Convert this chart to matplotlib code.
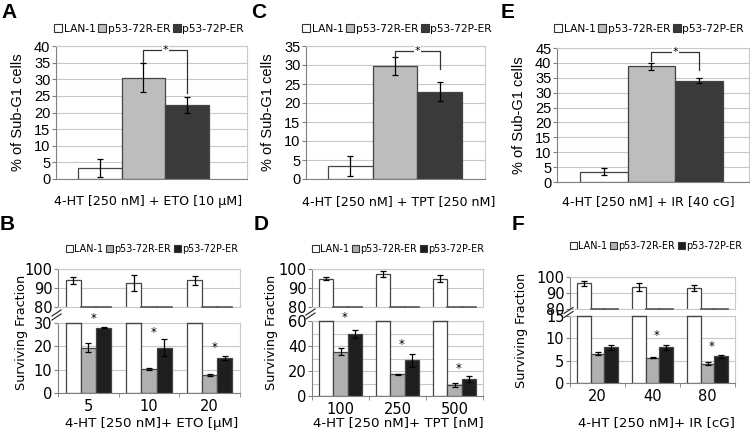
import matplotlib
matplotlib.use("Agg")
import matplotlib.pyplot as plt
from matplotlib.patches import Patch
from matplotlib.lines import Line2D

plt.rcParams['font.family'] = 'DejaVu Sans'

# ---- data ----
lines_ = ["LAN-1", "p53-72R-ER", "p53-72P-ER"]

# Sub-G1 panels (A, C, E)
A_mean = [3.3, 30.5, 22.2]
A_err = [2.8, 4.3, 2.5]
A_sig = [38.8, 35.2, 26.0]   # bracket level, left drop, right drop
A_xlabel = "4-HT [250 nM] + ETO [10 \u03bcM]"

C_mean = [3.5, 29.8, 23.0]
C_err = [2.6, 2.3, 2.5]
C_sig = [33.7, 32.2, 29.0]
C_xlabel = "4-HT [250 nM] + TPT [250 nM]"

E_mean = [3.5, 38.8, 34.0]
E_err = [1.2, 1.3, 0.8]
E_sig = [43.6, 40.5, 37.6]
E_xlabel = "4-HT [250 nM] + IR [40 cG]"

# Surviving fraction panels (B, D, F)
B_doses = ["5", "10", "20"]
B_lan = [94, 92.5, 94]
B_lan_err = [2, 4.2, 2.5]
B_72r = [19.5, 10.3, 7.7]
B_72r_err = [1.8, 0.3, 0.3]
B_72p = [28, 19.5, 15]
B_72p_err = [0.2, 3.5, 0.8]
B_star = [32, 26, 19.7]
B_xlabel = "4-HT [250 nM]+ ETO [\u03bcM]"

D_doses = ["100", "250", "500"]
D_lan = [95, 97.5, 95]
D_lan_err = [1, 1.5, 2]
D_72r = [35.5, 17.3, 9.2]
D_72r_err = [3, 0.5, 1.6]
D_72p = [49.5, 28.5, 13.5]
D_72p_err = [3.3, 5, 2.5]
D_star = [63, 41, 22]
D_xlabel = "4-HT [250 nM]+ TPT [nM]"

F_doses = ["20", "40", "80"]
F_lan = [96, 93.5, 93]
F_lan_err = [1.5, 2.5, 1.8]
F_72r = [6.6, 5.7, 4.3]
F_72r_err = [0.4, 0.15, 0.35]
F_72p = [8.0, 8.0, 6.0]
F_72p_err = [0.5, 0.5, 0.3]
F_star = [None, 10.7, 8.2]
F_xlabel = "4-HT [250 nM]+ IR [cG]"

W, H = 750, 432
fig = plt.figure(figsize=(W / 100, H / 100), dpi=100)

def px_axes(l, t, r, b):
    return fig.add_axes([l / W, 1 - b / H, (r - l) / W, (b - t) / H])

light = "#c8c8c8"
edge = "#444444"
colors_top = ["white", "#bdbdbd", "#3a3a3a"]
colors_bot = ["white", "#b0b0b0", "#1e1e1e"]


def legend(cx, cy, cols, size):
    handles = [Patch(facecolor=c, edgecolor="#333333", linewidth=0.8) for c in cols]
    fig.legend(handles, lines_, loc="center", bbox_to_anchor=(cx / W, 1 - cy / H),
               ncol=3, frameon=False, fontsize=size, handlelength=0.75, handleheight=0.75,
               handletextpad=0.15, columnspacing=0.25, borderpad=0, borderaxespad=0)


def top_panel(box, xlim, mean, err, sig, ymax, xlabel, letter, letter_x, leg_cx, xl_cx):
    ax = px_axes(*box)
    x = [-1, 0, 1]
    ax.bar(x, mean, width=1, color=colors_top, edgecolor=edge, linewidth=0.9, zorder=2)
    ax.errorbar(x, mean, yerr=err, fmt="none", ecolor="black", elinewidth=0.9,
                capsize=2.5, capthick=0.9, zorder=3)
    ax.set_xlim(*xlim)
    ax.set_ylim(0, ymax)
    ax.set_yticks(range(0, ymax + 1, 5))
    ax.set_xticks([])
    ax.grid(axis="y", color=light, linewidth=0.8, zorder=0)
    for s in ["top", "right"]:
        ax.spines[s].set_color(light)
    for s in ["left", "bottom"]:
        ax.spines[s].set_color("#808080")
    ax.tick_params(axis="y", length=3, color="#808080", pad=1)
    for t in ax.get_yticklabels():
        t.set_fontfamily("Liberation Sans")
        t.set_fontsize(10.5)
    fig.text((box[0] - 38) / W, 1 - (box[1] + box[3]) / 2 / H, "% of Sub-G1 cells",
             rotation=90, ha="center", va="center", fontfamily="Liberation Sans",
             fontsize=10.5)
    # significance bracket
    lvl, ld, rd = sig
    ax.plot([0, 0, 1, 1], [ld, lvl, lvl, rd], color="#333333", linewidth=0.9,
            zorder=4, clip_on=False)
    ax.text(0.5, lvl, "*", ha="center", va="center", fontsize=8, zorder=5,
            bbox=dict(facecolor="white", edgecolor="none", pad=0.6))
    fig.text(xl_cx / W, 1 - 202 / H, xlabel, ha="center", va="center", fontsize=9.1)
    fig.text(letter_x / W, 1 - 12 / H, letter, ha="left", va="center", fontsize=15,
             fontweight="bold", fontfamily="Liberation Sans")
    legend(leg_cx, 29, colors_top, 7.7)
    return ax


top_panel((56, 46, 247, 179), (-2.0, 2.37), A_mean, A_err, A_sig, 40, A_xlabel, "A", 1, 149, 148)
top_panel((306, 46, 485, 179), (-1.99, 2.01), C_mean, C_err, C_sig, 35, C_xlabel, "C", 251, 397, 399)
top_panel((557, 48, 749, 182), (-1.98, 2.05), E_mean, E_err, E_sig, 45, E_xlabel, "E", 501, 649, 648)


def bottom_panel(l, r, top_box, bot_box, doses, series, errs, stars, bot_max, bot_step,
                 grid_step, xlabel, letter, leg_cy, xl_cx, lab_x, lab_cy):
    ax_t = px_axes(l, top_box[0], r, top_box[1])
    ax_b = px_axes(l, bot_box[0], r, bot_box[1])
    w = 0.25
    groups = range(len(doses))
    offsets = [-w, 0, w]
    for ax, (lo, hi) in [(ax_t, (80, 100)), (ax_b, (0, bot_max))]:
        for k in range(3):
            xs = [g + offsets[k] for g in groups]
            ax.bar(xs, series[k], width=w, color=colors_bot[k], edgecolor=edge,
                   linewidth=0.9, zorder=2)
            ax.errorbar(xs, series[k], yerr=errs[k], fmt="none", ecolor="black",
                        elinewidth=0.9, capsize=2.2, capthick=0.9, zorder=3)
            # clipped bar edges
            for xv, v in zip(xs, series[k]):
                if v < lo:
                    ax.plot([xv - w / 2, xv + w / 2], [lo, lo], color="#555555",
                            linewidth=1.2, zorder=3, clip_on=False)
                elif v > hi:
                    ax.plot([xv - w / 2, xv + w / 2], [hi, hi], color=edge,
                            linewidth=1.0, zorder=3, clip_on=False)
        ax.set_xlim(-0.5, len(doses) - 0.5)
        ax.set_ylim(lo, hi)
        for s in ["top", "right"]:
            ax.spines[s].set_color(light)
        ax.spines["left"].set_color("#808080")
        ax.tick_params(axis="y", length=3, color="#808080", pad=1, labelsize=10.5)
        ax.set_axisbelow(True)
    ax_t.set_yticks([80, 90, 100])
    ax_t.grid(axis="y", color=light, linewidth=0.8)
    ax_t.spines["bottom"].set_color(light)
    ax_t.set_xticks([])
    ax_b.set_yticks(range(0, bot_max + 1, bot_step))
    ax_b.set_yticks(range(0, bot_max + 1, grid_step), minor=True)
    ax_b.tick_params(axis="y", which="minor", length=0)
    ax_b.grid(axis="y", which="both", color=light, linewidth=0.8)
    ax_b.spines["bottom"].set_color("#808080")
    ax_b.set_xticks(list(groups))
    ax_b.set_xticklabels(doses, fontsize=10.5)
    ax_b.set_xticks([g - 0.5 for g in range(len(doses) + 1)], minor=True)
    ax_b.tick_params(axis="x", which="major", length=0, pad=4)
    ax_b.tick_params(axis="x", which="minor", length=3, color="#808080")
    for g, s in zip(groups, stars):
        if s is not None:
            ax_b.text(g + 0.08, s, "*", ha="center", va="center", fontsize=8.5,
                      clip_on=False, zorder=5)
    # break marks
    ymid = (top_box[1] + bot_box[0]) / 2
    for dy in (-2, 2):
        fig.add_artist(Line2D([(l - 6) / W, (l + 3) / W],
                              [1 - (ymid + dy + 3) / H, 1 - (ymid + dy - 3) / H],
                              color="#333333", linewidth=0.9))
    fig.text(lab_x / W, 1 - lab_cy / H, "Surviving Fraction", rotation=90,
             ha="center", va="center", fontsize=9.2)
    fig.text(xl_cx / W, 1 - 423 / H, xlabel, ha="center", va="center", fontsize=9.6)
    fig.text((l - 58) / W, 1 - 224 / H, letter, ha="left", va="center", fontsize=15,
             fontweight="bold", fontfamily="Liberation Sans")
    legend(xl_cx, leg_cy, colors_bot, 6.9)


bottom_panel(58, 240, (269, 307), (323, 393), B_doses,
             [B_lan, B_72r, B_72p], [B_lan_err, B_72r_err, B_72p_err], B_star,
             30, 10, 10, B_xlabel, "B", 249, 152, 22, 332)
bottom_panel(312, 483, (269, 307), (321, 396), D_doses,
             [D_lan, D_72r, D_72p], [D_lan_err, D_72r_err, D_72p_err], D_star,
             60, 20, 10, D_xlabel, "D", 249, 398, 272, 332)
bottom_panel(570, 735, (277, 309), (316, 383), F_doses,
             [F_lan, F_72r, F_72p], [F_lan_err, F_72r_err, F_72p_err], F_star,
             15, 5, 5, F_xlabel, "F", 246, 656, 522, 330)

fig.savefig("out.png", dpi=100)
